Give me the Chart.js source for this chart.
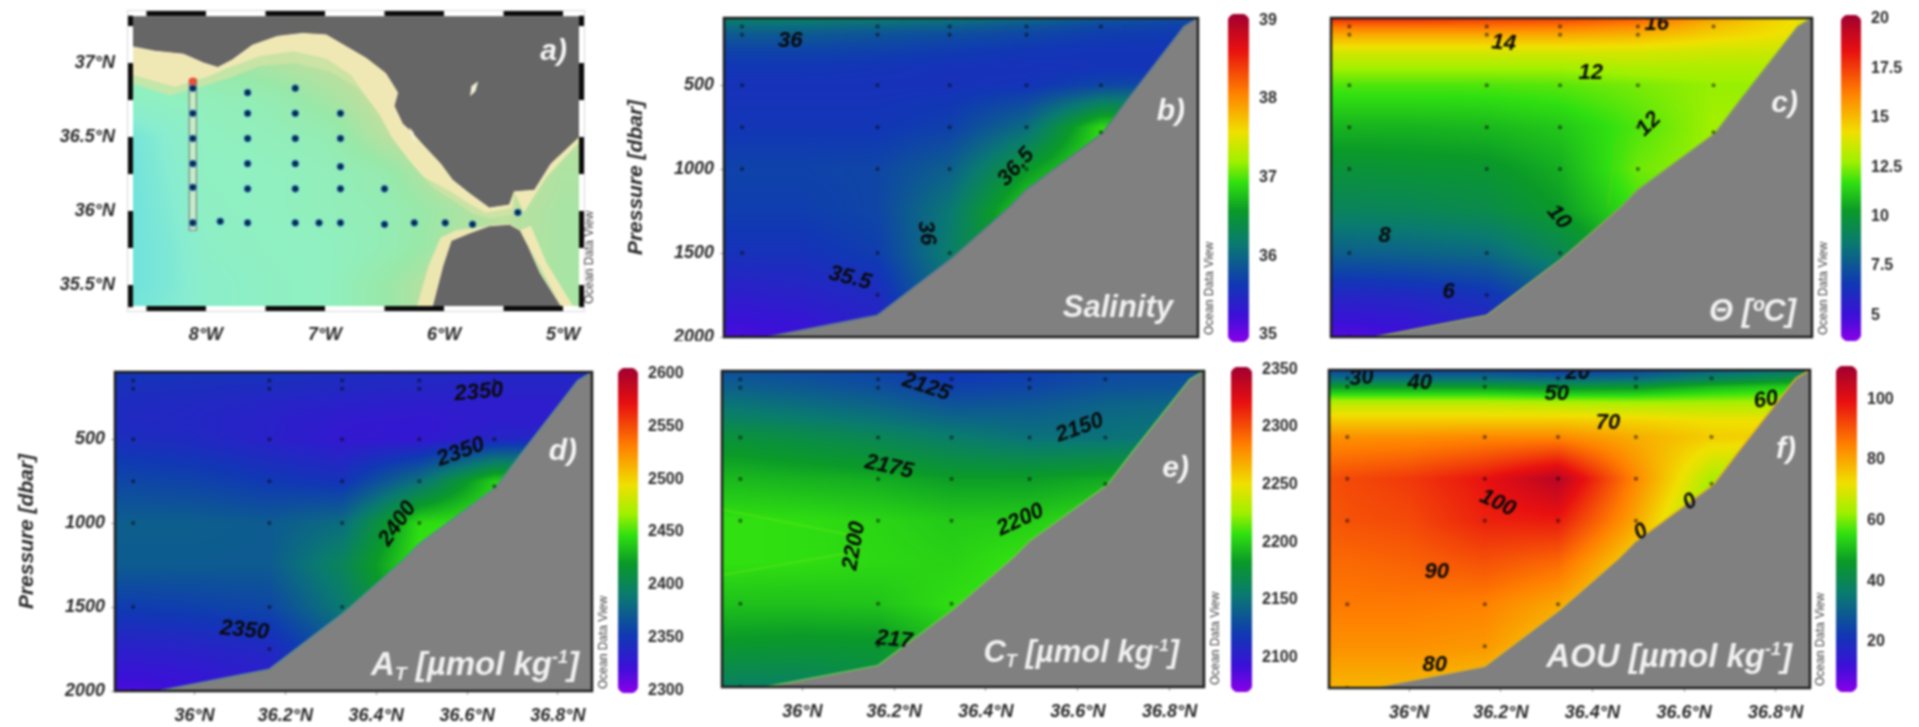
<!DOCTYPE html>
<html>
<head>
<meta charset="utf-8">
<title>Gulf of Cadiz sections</title>
<script src="https://cdn.jsdelivr.net/npm/chart.js@4"></script>
<style>
  html, body { margin: 0; padding: 0; background: #fff; }
  #page { position: relative; width: 1919px; height: 727px; overflow: hidden; }
  canvas { position: absolute; filter: blur(0.85px); }
</style>
</head>
<body>
<div id="page"></div>
<script>
// section grid, values at these nodes
const gridLat = [35.82, 35.865, 36.0, 36.165, 36.325, 36.495, 36.66, 36.875];
const gridP = [100, 150, 200, 300, 400, 500, 750, 1000, 1250, 1500, 1750, 2000];

const salinity = [
  [36.25, 36.25, 36.25, 36.2, 36.15, 36.05, 35.9, 35.8],
  [36.05, 36.05, 36.05, 36.0, 35.95, 35.85, 35.75, 35.7],
  [35.9, 35.9, 35.9, 35.85, 35.8, 35.75, 35.68, 35.65],
  [35.72, 35.72, 35.72, 35.7, 35.66, 35.62, 35.6, 35.6],
  [35.62, 35.62, 35.62, 35.6, 35.58, 35.58, 35.6, 35.6],
  [35.58, 35.58, 35.58, 35.58, 35.58, 35.6, 35.75, 35.8],
  [35.62, 35.62, 35.62, 35.62, 35.7, 36.05, 36.9, 37],
  [35.72, 35.72, 35.72, 35.75, 35.95, 36.55, 37, 37],
  [35.68, 35.68, 35.68, 35.75, 36.15, 36.9, 37, 37],
  [35.58, 35.58, 35.58, 35.68, 36.2, 36.9, 37, 37],
  [35.38, 35.38, 35.42, 35.5, 36.1, 36.5, 37, 37],
  [35.18, 35.18, 35.22, 35.4, 35.9, 36.5, 37, 37]
];
const theta = [
  [18, 18, 18, 17.6, 17.5, 17, 15.5, 14],
  [16.5, 16.5, 16.5, 16.5, 16.4, 16, 15, 14],
  [15.4, 15.4, 15.4, 15.4, 15.4, 15.2, 14.6, 14],
  [13.8, 13.8, 13.8, 13.8, 13.8, 13.8, 13.6, 13.5],
  [12.8, 12.8, 12.8, 12.8, 12.8, 13, 13, 13],
  [12, 12, 12, 12, 12.1, 12.4, 12.7, 12.7],
  [10.8, 10.8, 10.8, 10.9, 11.2, 12, 12.8, 12.8],
  [9.9, 9.9, 10, 10.1, 10.7, 12.3, 12.8, 12.8],
  [9.1, 9.1, 9.2, 9.5, 10.3, 11.8, 12, 12],
  [7.8, 7.8, 7.9, 8.1, 9.3, 11, 12, 12],
  [5.9, 5.9, 6, 6.4, 7.6, 10, 12, 12],
  [4.6, 4.6, 4.9, 5.5, 7, 10, 12, 12]
];
const alkalinity = [
  [2350, 2350, 2350, 2348, 2345, 2342, 2340, 2340],
  [2348, 2348, 2346, 2345, 2342, 2340, 2338, 2338],
  [2346, 2345, 2344, 2342, 2340, 2338, 2336, 2336],
  [2343, 2342, 2340, 2337, 2334, 2332, 2332, 2332],
  [2342, 2341, 2339, 2335, 2330, 2328, 2332, 2332],
  [2345, 2344, 2341, 2335, 2329, 2328, 2338, 2342],
  [2360, 2360, 2358, 2352, 2348, 2385, 2440, 2440],
  [2374, 2374, 2374, 2372, 2382, 2445, 2450, 2450],
  [2372, 2372, 2372, 2372, 2400, 2450, 2450, 2450],
  [2354, 2354, 2356, 2360, 2390, 2440, 2450, 2450],
  [2334, 2334, 2336, 2340, 2370, 2420, 2450, 2450],
  [2318, 2318, 2322, 2330, 2360, 2420, 2450, 2450]
];
const carbon = [
  [2132, 2132, 2130, 2126, 2118, 2122, 2128, 2130],
  [2136, 2136, 2133, 2128, 2120, 2124, 2130, 2132],
  [2141, 2140, 2137, 2132, 2124, 2127, 2133, 2135],
  [2152, 2151, 2147, 2142, 2134, 2136, 2142, 2145],
  [2163, 2162, 2158, 2152, 2145, 2143, 2147, 2150],
  [2176, 2175, 2171, 2165, 2157, 2150, 2150, 2155],
  [2193, 2193, 2191, 2189, 2184, 2184, 2188, 2190],
  [2207, 2207, 2206, 2203, 2199, 2200, 2207, 2207],
  [2207, 2207, 2206, 2204, 2202, 2209, 2212, 2212],
  [2196, 2196, 2196, 2197, 2206, 2210, 2212, 2212],
  [2181, 2180, 2179, 2180, 2195, 2207, 2212, 2212],
  [2160, 2160, 2160, 2168, 2188, 2207, 2212, 2212]
];
const aou = [
  [25, 25, 25, 25, 22, 25, 30, 35],
  [33, 33, 33, 33, 31, 32, 38, 44],
  [46, 46, 46, 46, 44, 45, 50, 54],
  [66, 66, 66, 66, 65, 64, 64, 64],
  [75, 75, 75, 75, 75, 74, 72, 72],
  [83, 83, 83, 84, 84, 79, 75, 74],
  [91, 92, 94, 99, 107, 84, 64, 60],
  [90, 91, 92, 97, 98, 80, 58, 58],
  [88, 88, 89, 91, 88, 73, 60, 60],
  [86, 86, 86, 85, 80, 70, 60, 60],
  [83, 83, 83, 82, 75, 68, 60, 60],
  [78, 78, 78, 76, 72, 68, 60, 60]
];

// sampling points of the section
const stationLat = [35.865, 35.865, 35.865, 35.865, 35.865, 35.865, 35.865, 36.165, 36.165, 36.165, 36.165, 36.165, 36.165, 36.165, 36.325, 36.325, 36.325, 36.325, 36.325, 36.325, 36.495, 36.495, 36.495, 36.495, 36.495, 36.66, 36.66, 36.66];
const stationP = [150, 200, 500, 750, 1000, 1500, 2000, 150, 200, 500, 750, 1000, 1500, 1750, 150, 200, 500, 750, 1000, 1500, 150, 200, 500, 750, 1000, 150, 500, 780];

// sea floor outline
const floorLat = [35.919, 36.165, 36.33, 36.458, 36.494, 36.664, 36.718, 36.844, 36.875];
const floorP = [2000, 1870, 1530, 1225, 1125, 785, 590, 150, 100];

const latTicks = [36, 36.2, 36.4, 36.6, 36.8];
const pressureTicks = [500, 1000, 1500, 2000];

const salinityBar = [35, 36, 37, 38, 39];
const thetaBar = [5, 7.5, 10, 12.5, 15, 17.5, 20];
const alkalinityBar = [2300, 2350, 2400, 2450, 2500, 2550, 2600];
const carbonBar = [2100, 2150, 2200, 2250, 2300, 2350];
const aouBar = [20, 40, 60, 80, 100];

const salinityLabels = [['36', 35.972, 238, 0], ['35.5', 36.104, 1649, 14], ['36', 36.273, 1381, 82], ['36.5', 36.472, 988, -48]];
const thetaLabels = [['16', 36.536, 137, 0], ['14', 36.202, 250, 5], ['12', 36.392, 429, 0], ['12', 36.519, 732, -45], ['10', 36.322, 1286, 50], ['8', 35.942, 1399, 0], ['6', 36.082, 1732, 0]];
const alkalinityLabels = [['2350', 36.626, 221, -5], ['2350', 36.586, 577, -20], ['2400', 36.447, 1004, -55], ['2350', 36.11, 1639, 5]];
const carbonLabels = [['2125', 36.27, 196, 18], ['2150', 36.604, 443, -20], ['2175', 36.189, 677, 12], ['2200', 36.113, 1152, -80], ['2200', 36.475, 996, -25], ['217', 36.2, 1717, 6]];
const aouLabels = [['30', 35.896, 148, -5], ['40', 36.023, 178, 0], ['20', 36.368, 118, 0], ['50', 36.322, 243, 0], ['60', 36.779, 279, -10], ['70', 36.434, 417, 0], ['100', 36.193, 895, 25], ['90', 36.06, 1307, 0], ['80', 36.056, 1863, 0], ['0', 36.506, 1068, -30], ['0', 36.613, 889, -30]];

// faint contour pieces
const carbonUpperLat = [35.82, 36.13];
const carbonUpperP = [930, 1100];
const carbonLowerLat = [35.82, 36.13];
const carbonLowerP = [1330, 1180];
const thetaContourLat = [36.45, 36.44, 36.43];
const thetaContourP = [820, 1000, 1220];

// map panel
const mapLonTicks = [-8, -7, -6, -5];
const mapLatTicks = [35.5, 36, 36.5, 37];
const mapGridLon = [-8.62, -8.3, -8.0, -7.5, -7.0, -6.5, -6.0, -5.5, -5.0, -4.86];
const mapGridLat = [37.32, 37.0, 36.75, 36.5, 36.25, 36.0, 35.75, 35.5, 35.35];
const mapDepth = [
  [700, 700, 500, 300, 200, 100, 100, 100, 100, 100],
  [700, 700, 600, 400, 250, 100, 100, 100, 100, 100],
  [1200, 1000, 900, 800, 500, 150, 100, 100, 200, 200],
  [2800, 1800, 1000, 900, 800, 300, 100, 100, 300, 300],
  [3000, 2000, 1100, 1000, 900, 700, 200, 100, 400, 400],
  [3000, 2200, 1200, 1000, 900, 800, 500, 250, 450, 450],
  [3000, 2400, 1400, 1100, 1000, 800, 450, 300, 450, 450],
  [3000, 2400, 1600, 1200, 1000, 600, 200, 200, 450, 450],
  [2800, 2200, 1600, 1200, 1000, 600, 200, 200, 450, 450]
];
const northLandLon = [-8.62, -8.43, -8.19, -8.02, -7.9, -7.78, -7.61, -7.4, -7.19, -6.99, -6.82, -6.65, -6.49, -6.39, -6.42, -6.35, -6.27, -6.17, -6.03, -5.93, -5.79, -5.62, -5.45, -5.41, -5.24, -5.1, -4.86, -4.86, -8.62];
const northLandLat = [37.11, 37.08, 37.06, 37.0, 36.97, 37.02, 37.12, 37.18, 37.2, 37.19, 37.11, 37.03, 36.93, 36.8, 36.71, 36.59, 36.53, 36.44, 36.32, 36.21, 36.12, 36.02, 36.04, 36.13, 36.14, 36.32, 36.5, 37.32, 37.32];
const southLandLon = [-6.1, -6.01, -5.94, -5.79, -5.62, -5.45, -5.36, -5.29, -5.19, -5.01];
const southLandLat = [35.35, 35.63, 35.8, 35.85, 35.9, 35.91, 35.87, 35.76, 35.58, 35.35];
const northShelfLon = [-8.62, -8.26, -7.98, -7.81, -7.54, -7.26, -6.99, -6.78, -6.65, -6.54, -6.44, -6.3, -6.17, -5.96, -5.79, -5.65, -5.43, -5.4, -6, -8.62];
const northShelfLat = [36.92, 36.84, 36.91, 36.97, 37.05, 37.08, 37.03, 36.92, 36.77, 36.65, 36.5, 36.35, 36.23, 36.14, 36.05, 35.99, 36.02, 36.3, 37.32, 37.32];
const northSlopeLon = [-8.62, -8.3, -8.0, -7.8, -7.55, -7.26, -6.95, -6.72, -6.58, -6.46, -6.36, -6.22, -6.08, -5.9, -5.75, -5.6, -5.4, -5.4, -6, -8.62];
const northSlopeLat = [36.86, 36.78, 36.85, 36.9, 36.98, 37.0, 36.94, 36.83, 36.7, 36.55, 36.42, 36.27, 36.15, 36.06, 35.98, 35.95, 35.98, 36.3, 37.32, 37.32];
const southShelfLon = [-6.23, -6.13, -6.03, -5.9, -5.8, -5.6, -5.6, -6];
const southShelfLat = [35.35, 35.63, 35.82, 35.87, 35.88, 35.9, 35.7, 35.35];
const ceutaShelfLon = [-5.36, -5.27, -5.14, -4.91, -5.01];
const ceutaShelfLat = [35.87, 35.9, 35.65, 35.35, 35.35];
const alboranShelfLon = [-5.41, -5.33, -5.14, -4.86, -4.86, -5.1, -5.24];
const alboranShelfLat = [36.13, 35.99, 36.23, 36.47, 36.52, 36.32, 36.14];
const islandLon = [-6.29, -6.26, -6.24, -6.27];
const islandLat = [36.56, 36.53, 36.47, 36.5];
const isleLon = [-5.77, -5.72, -5.74, -5.78];
const isleLat = [36.84, 36.87, 36.81, 36.78];
const cruiseLon = [-8.11, -8.11, -8.11, -8.11, -8.11, -8.11, -7.65, -7.65, -7.65, -7.65, -7.65, -7.65, -7.25, -7.25, -7.25, -7.25, -7.25, -7.25, -6.87, -6.87, -6.87, -6.87, -6.87, -6.5, -6.5, -7.88, -7.05, -6.25, -5.99, -5.76, -5.38];
const cruiseLat = [36.83, 36.66, 36.49, 36.32, 36.16, 35.92, 36.8, 36.66, 36.49, 36.32, 36.15, 35.92, 36.83, 36.66, 36.49, 36.32, 36.15, 35.92, 36.66, 36.49, 36.3, 36.15, 35.92, 36.15, 35.91, 35.93, 35.92, 35.92, 35.92, 35.91, 35.99];
const transectLon = [-8.14, -8.08, -8.08, -8.14, -8.14];
const transectLat = [36.89, 36.89, 35.87, 35.87, 36.89];
const blackLon = [[-8.5, -8], [-7.5, -7], [-6.5, -6], [-5.5, -5]];
const blackLat = [[37.25, 37.32], [36.75, 37], [36.25, 36.5], [35.75, 36], [35.35, 35.5]];

// colours
const rainbow = [
  [0, '#8a00e8'], [0.08, '#3c10d8'], [0.175, '#1038b4'], [0.3, '#0a7a70'], [0.4, '#0a9a28'],
  [0.485, '#30e010'], [0.55, '#a0f000'], [0.64, '#f0e000'], [0.76, '#ff8000'], [0.89, '#e81010'], [1, '#a00030']
];
const seaColours = [
  [0, '#f0e8b0'], [0.03, '#d8e0a0'], [0.1, '#b8e0a0'], [0.2, '#98e8a8'], [0.33, '#90f0c0'], [0.66, '#88ecd0'], [1, '#70e2dc']
];

const FONT = '"Liberation Sans", Arial, sans-serif';
const TEXT = '#2a2a2a';
Chart.defaults.font.family = FONT;
Chart.defaults.animation = false;

const page = document.getElementById('page');

function addCanvas(left, top, width, height) {
  const c = document.createElement('canvas');
  c.width = width;
  c.height = height;
  c.style.left = left + 'px';
  c.style.top = top + 'px';
  c.style.width = width + 'px';
  c.style.height = height + 'px';
  page.appendChild(c);
  return c;
}

function zip(xs, ys) {
  return xs.map((x, i) => ({ x: x, y: ys[i] }));
}

function hexToRgb(h) {
  return [parseInt(h.slice(1, 3), 16), parseInt(h.slice(3, 5), 16), parseInt(h.slice(5, 7), 16)];
}

function colourLookup(stops) {
  const s = stops.map(p => [p[0], hexToRgb(p[1])]);
  return function (t) {
    t = Math.max(0, Math.min(1, t));
    for (let i = 1; i < s.length; i++) {
      if (t <= s[i][0]) {
        const f = (t - s[i - 1][0]) / (s[i][0] - s[i - 1][0]);
        return s[i][1].map((c, k) => s[i - 1][1][k] + (c - s[i - 1][1][k]) * f);
      }
    }
    return s[s.length - 1][1];
  };
}

// finds the grid span of v and how far along it v is
function span(axis, v) {
  const up = axis[1] > axis[0];
  let i = 0;
  while (i < axis.length - 2 && (up ? v > axis[i + 1] : v < axis[i + 1])) i++;
  const f = (v - axis[i]) / (axis[i + 1] - axis[i]);
  return [i, Math.max(0, Math.min(1, f))];
}

// shades the plot area from a value grid, through the chart's own scales
function shadePlugin(xs, ys, grid, lo, hi, stops) {
  const look = colourLookup(stops);
  return {
    id: 'shade',
    beforeDatasetsDraw(chart) {
      const a = chart.chartArea;
      const x0 = Math.round(a.left), y0 = Math.round(a.top);
      const w = Math.round(a.right - a.left), h = Math.round(a.bottom - a.top);
      const img = chart.ctx.createImageData(w, h);
      const cols = [];
      for (let px = 0; px < w; px++) cols.push(span(xs, chart.scales.x.getValueForPixel(x0 + px + 0.5)));
      for (let py = 0; py < h; py++) {
        const [j, fy] = span(ys, chart.scales.y.getValueForPixel(y0 + py + 0.5));
        for (let px = 0; px < w; px++) {
          const [i, fx] = cols[px];
          const top = grid[j][i] + (grid[j][i + 1] - grid[j][i]) * fx;
          const bot = grid[j + 1][i] + (grid[j + 1][i + 1] - grid[j + 1][i]) * fx;
          const rgb = look((top + (bot - top) * fy - lo) / (hi - lo));
          const k = (py * w + px) * 4;
          img.data[k] = rgb[0];
          img.data[k + 1] = rgb[1];
          img.data[k + 2] = rgb[2];
          img.data[k + 3] = 255;
        }
      }
      chart.ctx.putImageData(img, x0, y0);
    }
  };
}

function drawRuns(ctx, runs, right, baseline, colour) {
  let total = 0;
  runs.forEach(r => {
    ctx.font = 'italic bold ' + r[1] + 'px ' + FONT;
    total += ctx.measureText(r[0]).width;
  });
  let x = right - total;
  ctx.fillStyle = colour;
  ctx.textAlign = 'left';
  ctx.textBaseline = 'alphabetic';
  runs.forEach(r => {
    ctx.font = 'italic bold ' + r[1] + 'px ' + FONT;
    ctx.fillText(r[0], x, baseline + (r[2] || 0));
    x += ctx.measureText(r[0]).width;
  });
}

// panel letter, panel title, "Ocean Data View" and the frame
function decorPlugin(p) {
  return {
    id: 'decor',
    afterDatasetsDraw(chart) {
      const ctx = chart.ctx, a = chart.chartArea;
      ctx.save();
      ctx.beginPath();
      ctx.rect(a.left, a.top, a.right - a.left, a.bottom - a.top);
      ctx.clip();
      ctx.fillStyle = '#0a0a0a';
      ctx.font = 'italic bold 22px ' + FONT;
      ctx.textAlign = 'center';
      ctx.textBaseline = 'middle';
      (p.labels || []).forEach(l => {
        ctx.save();
        ctx.translate(chart.scales.x.getPixelForValue(l[1]), chart.scales.y.getPixelForValue(l[2]));
        ctx.rotate(l[3] * Math.PI / 180);
        ctx.fillText(l[0], 0, 0);
        ctx.restore();
      });
      ctx.restore();

      ctx.save();
      drawRuns(ctx, [[p.letter, 30]], a.right - p.letterRight, a.top + p.letterTop, '#f4f4f4');
      if (p.title) drawRuns(ctx, p.title, a.right - p.titleRight, a.bottom - p.titleUp, '#f0f0f0');
      if (p.frame) {
        ctx.strokeStyle = '#1c1c1c';
        ctx.lineWidth = 2.5;
        ctx.strokeRect(a.left, a.top, a.right - a.left, a.bottom - a.top);
      }
      ctx.translate(a.right + p.odvX, a.bottom - 2);
      ctx.rotate(-Math.PI / 2);
      ctx.fillStyle = '#3a3a3a';
      ctx.font = '12px ' + FONT;
      ctx.textAlign = 'left';
      ctx.textBaseline = 'middle';
      ctx.fillText('Ocean Data View', 0, 0);
      ctx.restore();
    }
  };
}

// keeps the plot rectangle where it was asked for
function fixBox(s, w, h) {
  if (w !== null) s.width = w;
  if (h !== null) s.height = h;
  s.paddingTop = 0;
  s.paddingBottom = 0;
  s.paddingLeft = 0;
  s.paddingRight = 0;
}

function section(p) {
  const axisW = p.yLabels ? 100 : 4;
  const axisH = p.xLabels ? 42 : 4;
  const canvas = addCanvas(p.l - axisW, p.t - 8, axisW + p.r - p.l + 26, 8 + p.b - p.t + axisH);
  const contours = (p.contours || []).map(c => ({
    data: zip(c[0], c[1]), showLine: true, pointRadius: 0, borderWidth: 1, borderColor: c[2], order: 2
  }));
  new Chart(canvas, {
    type: 'scatter',
    data: {
      datasets: [
        {
          data: zip(stationLat, stationP),
          pointRadius: 2, pointBackgroundColor: 'rgba(10,10,10,0.55)', pointBorderWidth: 0, order: 0
        },
        {
          data: zip([35.82].concat(floorLat), [2000].concat(floorP)),
          showLine: true, pointRadius: 0, borderWidth: 1.5, borderColor: p.rim,
          backgroundColor: '#808080', fill: 'start', order: 1
        }
      ].concat(contours)
    },
    options: {
      responsive: false,
      layout: { padding: { top: 8, right: 26, left: p.yLabels ? 0 : axisW, bottom: p.xLabels ? 0 : axisH } },
      plugins: { legend: { display: false }, tooltip: { enabled: false } },
      scales: {
        x: {
          type: 'linear', min: 35.825, max: 36.875, display: p.xLabels,
          afterFit: s => fixBox(s, null, p.xLabels ? axisH : 0),
          afterBuildTicks: s => { s.ticks = latTicks.map(v => ({ value: v })); },
          grid: { drawOnChartArea: false, tickLength: 4, color: '#a0a0a0' },
          border: { display: false },
          ticks: {
            maxRotation: 0, padding: 10, color: TEXT, autoSkip: false,
            font: { size: 18, weight: 'bold', style: 'italic' },
            callback: v => v + '°N'
          }
        },
        y: {
          type: 'linear', min: 100, max: 2000, reverse: true, display: p.yLabels,
          afterFit: s => fixBox(s, p.yLabels ? axisW : 0, null),
          afterBuildTicks: s => { s.ticks = pressureTicks.map(v => ({ value: v })); },
          grid: { drawOnChartArea: false, tickLength: 4, color: '#a0a0a0' },
          border: { display: false },
          title: {
            display: p.yLabels, text: 'Pressure [dbar]', color: TEXT,
            font: { size: 21, weight: 'bold', style: 'italic' }, padding: { top: 0, bottom: 0 }
          },
          ticks: {
            padding: 6, color: TEXT, autoSkip: false,
            font: { size: 18, weight: 'bold', style: 'italic' },
            callback: v => String(v)
          }
        }
      }
    },
    plugins: [shadePlugin(gridLat, gridP, p.values, p.lo, p.hi, rainbow), decorPlugin(p)]
  });
}

function colourBar(b) {
  const labelW = 60;
  const canvas = addCanvas(b.l, b.t - 12, b.r - b.l + labelW, b.b - b.t + 24);
  new Chart(canvas, {
    type: 'bar',
    data: {
      labels: [''],
      datasets: [{
        data: [[b.lo, b.hi]],
        barPercentage: 1,
        categoryPercentage: 1,
        borderSkipped: false,
        borderRadius: 8,
        backgroundColor(ctx) {
          const area = ctx.chart.chartArea;
          if (!area) return '#000';
          const g = ctx.chart.ctx.createLinearGradient(0, area.bottom, 0, area.top);
          rainbow.forEach(s => g.addColorStop(s[0], s[1]));
          return g;
        }
      }]
    },
    options: {
      responsive: false,
      layout: { padding: { top: 12, bottom: 12, left: 0, right: 0 } },
      plugins: { legend: { display: false }, tooltip: { enabled: false } },
      scales: {
        x: { display: false, afterFit: s => fixBox(s, null, 0) },
        y: {
          type: 'linear', position: 'right', min: b.lo, max: b.hi,
          afterFit: s => fixBox(s, labelW, null),
          afterBuildTicks: s => { s.ticks = b.ticks.map(v => ({ value: v })); },
          grid: { display: false },
          border: { display: false },
          ticks: {
            padding: 2, color: TEXT, autoSkip: false, font: { size: 16, weight: 'bold' },
            callback: v => String(v)
          }
        }
      }
    }
  });
}

function line(lon, lat, fill, stroke, width, order) {
  return {
    data: zip(lon, lat), showLine: true, pointRadius: 0, fill: 'shape',
    backgroundColor: fill, borderColor: stroke, borderWidth: width, order: order
  };
}

function drawMap() {
  const l = 133, r = 579, t = 16, b = 306;
  const canvas = addCanvas(l - 100, t - 8, 100 + r - l + 26, 8 + b - t + 42);
  const frameDash = {
    id: 'frameDash',
    afterDatasetsDraw(chart) {
      const ctx = chart.ctx, a = chart.chartArea, x = chart.scales.x, y = chart.scales.y;
      ctx.save();
      ctx.strokeStyle = '#d8d8d8';
      ctx.lineWidth = 1;
      ctx.strokeRect(a.left - 5.5, a.top - 5.5, a.right - a.left + 11, a.bottom - a.top + 11);
      ctx.fillStyle = '#0c0c0c';
      blackLon.forEach(s => {
        const x0 = x.getPixelForValue(s[0]), x1 = x.getPixelForValue(s[1]);
        ctx.fillRect(x0, a.top - 5, x1 - x0, 5);
        ctx.fillRect(x0, a.bottom, x1 - x0, 5);
      });
      blackLat.forEach(s => {
        const y0 = y.getPixelForValue(s[1]), y1 = y.getPixelForValue(s[0]);
        ctx.fillRect(a.left - 5, y0, 5, y1 - y0);
        ctx.fillRect(a.right, y0, 5, y1 - y0);
      });
      ctx.restore();
    }
  };
  new Chart(canvas, {
    type: 'scatter',
    data: {
      datasets: [
        { data: [{ x: -8.11, y: 36.875 }], pointRadius: 4, pointBackgroundColor: '#e8503a', pointBorderWidth: 0, order: 0 },
        {
          data: zip(cruiseLon, cruiseLat), pointRadius: 3.4,
          pointBackgroundColor: '#0a2848', pointBorderColor: '#2a80d0', pointBorderWidth: 1, order: 1
        },
        line(transectLon, transectLat, 'rgba(240,235,200,0.55)', '#808080', 1.2, 2),
        line(islandLon, islandLat, '#f4f0d8', '#f4f0d8', 1, 3),
        line(isleLon, isleLat, '#f4f0d8', '#f4f0d8', 1, 3),
        line(northLandLon, northLandLat, '#666666', '#f4ecc0', 1, 4),
        line(southLandLon, southLandLat, '#666666', '#f4ecc0', 1, 4),
        line(northShelfLon, northShelfLat, '#f0e8b4', 'rgba(0,0,0,0)', 0, 5),
        line(southShelfLon, southShelfLat, '#ece6b0', 'rgba(0,0,0,0)', 0, 5),
        line(ceutaShelfLon, ceutaShelfLat, '#f0e8b4', 'rgba(0,0,0,0)', 0, 5),
        line(alboranShelfLon, alboranShelfLat, '#f0e8b4', 'rgba(0,0,0,0)', 0, 5),
        line(northSlopeLon, northSlopeLat, 'rgba(208,228,165,0.8)', 'rgba(0,0,0,0)', 0, 6)
      ]
    },
    options: {
      responsive: false,
      layout: { padding: { top: 8, right: 26, left: 0, bottom: 0 } },
      plugins: { legend: { display: false }, tooltip: { enabled: false } },
      scales: {
        x: {
          type: 'linear', min: -8.613, max: -4.866,
          afterFit: s => fixBox(s, null, 42),
          afterBuildTicks: s => { s.ticks = mapLonTicks.map(v => ({ value: v })); },
          grid: { display: false }, border: { display: false },
          ticks: {
            padding: 10, color: TEXT, autoSkip: false, maxRotation: 0,
            font: { size: 18, weight: 'bold', style: 'italic' },
            callback: v => (-v) + '°W'
          }
        },
        y: {
          type: 'linear', min: 35.358, max: 37.318,
          afterFit: s => fixBox(s, 100, null),
          afterBuildTicks: s => { s.ticks = mapLatTicks.map(v => ({ value: v })); },
          grid: { display: false }, border: { display: false },
          ticks: {
            padding: 10, color: TEXT, autoSkip: false,
            font: { size: 18, weight: 'bold', style: 'italic' },
            callback: v => v + '°N'
          }
        }
      }
    },
    plugins: [
      shadePlugin(mapGridLon, mapGridLat, mapDepth, 0, 3000, seaColours),
      frameDash,
      decorPlugin({ letter: 'a)', letterRight: 12, letterTop: 44, odvX: 11 })
    ]
  });
}

drawMap();

section({
  l: 724, r: 1198, t: 18, b: 337, yLabels: true, xLabels: false, values: salinity, lo: 34.91, hi: 39.08,
  rim: '#5a7a90', labels: salinityLabels, frame: true, letter: 'b)', letterRight: 13, letterTop: 102, odvX: 12,
  title: [['Salinity', 31]], titleRight: 25, titleUp: 20
});
section({
  l: 1331, r: 1812, t: 18, b: 337, yLabels: false, xLabels: false, values: theta, lo: 3.7, hi: 20.2,
  rim: '#8aa060', labels: thetaLabels, frame: true, letter: 'c)', letterRight: 14, letterTop: 94, odvX: 12,
  contours: [[thetaContourLat, thetaContourP, 'rgba(120,200,20,0.6)']],
  title: [['Θ [ºC]', 31]], titleRight: 16, titleUp: 16
});
section({
  l: 115, r: 592, t: 372, b: 691, yLabels: true, xLabels: true, values: alkalinity, lo: 2298, hi: 2605,
  rim: '#5a8a90', labels: alkalinityLabels, frame: true, letter: 'd)', letterRight: 15, letterTop: 88, odvX: 12,
  title: [['A', 33], ['T', 19, 5], [' [µmol kg', 33], ['-1', 18, -12], [']', 33]], titleRight: 13, titleUp: 16
});
section({
  l: 722, r: 1204, t: 371, b: 687, yLabels: false, xLabels: true, values: carbon, lo: 2070, hi: 2352,
  rim: '#70c050', labels: carbonLabels, frame: true, letter: 'e)', letterRight: 15, letterTop: 106, odvX: 12,
  contours: [[carbonUpperLat, carbonUpperP, 'rgba(110,235,20,0.7)'], [carbonLowerLat, carbonLowerP, 'rgba(110,235,20,0.7)']],
  title: [['C', 31], ['T', 18, 5], [' [µmol kg', 31], ['-1', 17, -11], [']', 31]], titleRight: 25, titleUp: 25
});
section({
  l: 1329, r: 1810, t: 370, b: 688, yLabels: false, xLabels: true, values: aou, lo: 3.4, hi: 111,
  rim: '#e0b020', labels: aouLabels, frame: true, letter: 'f)', letterRight: 14, letterTop: 88, odvX: 11,
  title: [['AOU [µmol kg', 33], ['-1', 18, -12], [']', 33]], titleRight: 18, titleUp: 21
});

colourBar({ l: 1228, r: 1249, t: 14, b: 342, lo: 34.91, hi: 39.08, ticks: salinityBar });
colourBar({ l: 1841, r: 1861, t: 15, b: 341, lo: 3.7, hi: 20.2, ticks: thetaBar });
colourBar({ l: 618, r: 638, t: 368, b: 693, lo: 2298, hi: 2605, ticks: alkalinityBar });
colourBar({ l: 1231, r: 1252, t: 367, b: 692, lo: 2070, hi: 2352, ticks: carbonBar });
colourBar({ l: 1836, r: 1857, t: 366, b: 692, lo: 3.4, hi: 111, ticks: aouBar });
</script>
</body>
</html>
